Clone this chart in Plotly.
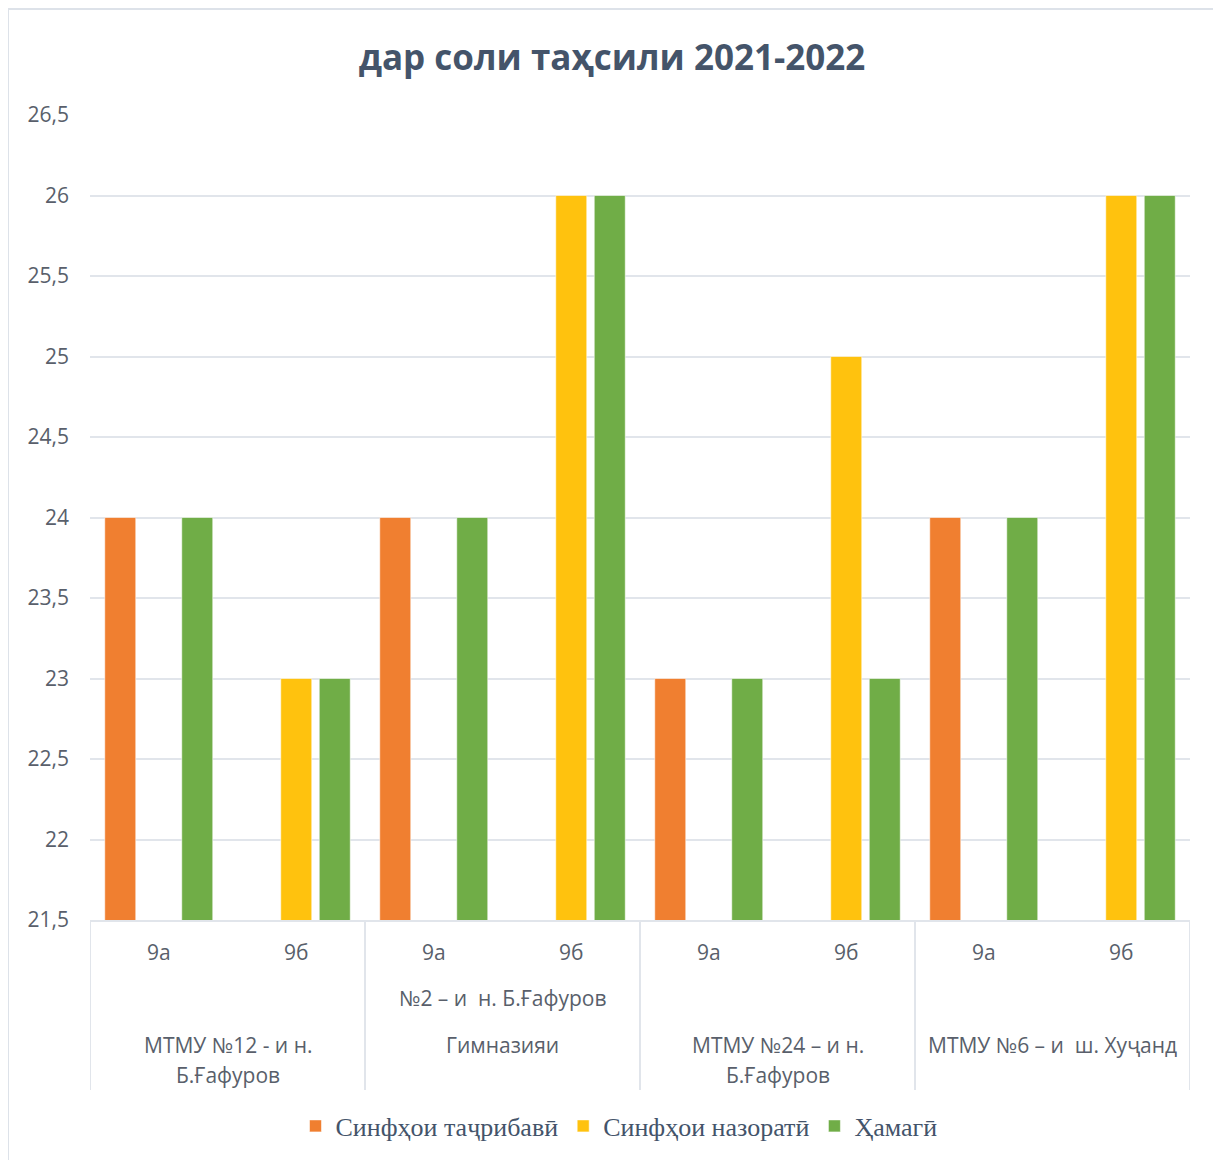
import plotly.graph_objects as go

# ---- data ----
schools = [
    "МТМУ №12 - и н. Б.Ғафуров",
    "Гимназияи №2 – и  н. Б.Ғафуров",
    "МТМУ №24 – и н. Б.Ғафуров",
    "МТМУ №6 – и  ш. Хуҷанд",
]
school_label_lines = [
    ["МТМУ №12 - и н.", "Б.Ғафуров"],
    ["№2 – и  н. Б.Ғафуров", "Гимназияи"],
    ["МТМУ №24 – и н.", "Б.Ғафуров"],
    ["МТМУ №6 – и  ш. Хуҷанд"],
]
classes = ["9а", "9б"]

series_names = ["Синфҳои таҷрибавӣ", "Синфҳои назоратӣ", "Ҳамагӣ"]
experimental = [24, None, 24, None, 23, None, 24, None]
control = [None, 23, None, 26, None, 25, None, 26]
total = [24, 23, 24, 26, 23, 23, 24, 26]

y_ticks = [21.5, 22, 22.5, 23, 23.5, 24, 24.5, 25, 25.5, 26, 26.5]
title_text = "дар соли таҳсили 2021-2022"

# ---- layout helpers (screen pixel geometry; page has an 8px body margin) ----
W, H = 1221, 1160
OFF = 8
PL, PR, PT, PB = 90, 1190, 115, 920


def py(p):
    return (PB - p) / (PB - PT)


def px(p):
    return (p - PL) / (PR - PL)


x_keys = [f"{s}|{c}" for s in schools for c in classes]
x_ticktext = [c for s in schools for c in classes]

colors = ["#F07F30", "#FFC20E", "#70AD47"]
values = [experimental, control, total]

fig = go.Figure()
for name, vals, col in zip(series_names, values, colors):
    fig.add_trace(go.Bar(
        x=x_keys, y=vals, name=name,
        marker=dict(color=col, line=dict(color="rgba(255,255,255,0.55)", width=1)),
    ))

sans = "Open Sans, Noto Sans, sans-serif"
grid_col = "#E1E5EB"
label_col = "#595F6B"

annotations = []
school_rows = [[1045, 1075], [998, 1045], [1045, 1075], [1045]]
for i, (lines, rows) in enumerate(zip(school_label_lines, school_rows)):
    for line, r in zip(lines, rows):
        annotations.append(dict(
            x=2 * i + 0.5, xref="x", y=py(r), yref="paper",
            text=line, showarrow=False, xanchor="center", yanchor="middle",
            font=dict(family=sans, size=21, color=label_col),
        ))

shapes = []
for k in range(len(schools) + 1):
    shapes.append(dict(
        type="line", xref="x", yref="paper",
        x0=2 * k - 0.5, x1=2 * k - 0.5, y0=0, y1=py(1090),
        line=dict(color=grid_col, width=2),
    ))
# chart border
shapes.append(dict(
    type="rect", xref="paper", yref="paper",
    x0=px(8), x1=px(1219), y0=py(1170), y1=py(9),
    line=dict(color="#DDE2E9", width=2), fillcolor="rgba(0,0,0,0)", layer="below",
))

fig.update_layout(
    width=W, height=H,
    margin=dict(l=PL - OFF, r=W - (PR - OFF), t=PT - OFF, b=H - (PB - OFF), autoexpand=False),
    paper_bgcolor="white", plot_bgcolor="white",
    separators=", ",
    barmode="group", bargap=0.16, bargroupgap=0.195,
    title=dict(
        text=title_text, x=(612 - OFF) / W, xref="container",
        y=1 - (58 - OFF) / H, yref="container",
        xanchor="center", yanchor="middle",
        font=dict(family=sans, size=35, color="#44546A", weight="bold"),
    ),
    xaxis=dict(
        type="category", tickmode="array", tickvals=x_keys, ticktext=x_ticktext,
        showgrid=False, showline=True, linecolor=grid_col, linewidth=2,
        ticks="", ticklabelstandoff=13, automargin=False,
        tickfont=dict(family=sans, size=21, color=label_col),
        range=[-0.5, len(x_keys) - 0.5],
    ),
    yaxis=dict(
        range=[21.5, 26.5], tickmode="array", tickvals=y_ticks,
        showgrid=True, gridcolor=grid_col, gridwidth=2, automargin=False,
        zeroline=False, showline=False, ticks="", ticklabelstandoff=20,
        tickfont=dict(family=sans, size=21, color=label_col),
    ),
    legend=dict(
        orientation="h", x=px(619), xanchor="center", xref="paper",
        y=py(1126), yanchor="middle", yref="paper",
        font=dict(family="Liberation Serif, serif", size=26, color="#44546A"),
        traceorder="normal", itemwidth=30,
    ),
    annotations=annotations,
    shapes=shapes,
    showlegend=True,
)

fig.write_html("out.html")
